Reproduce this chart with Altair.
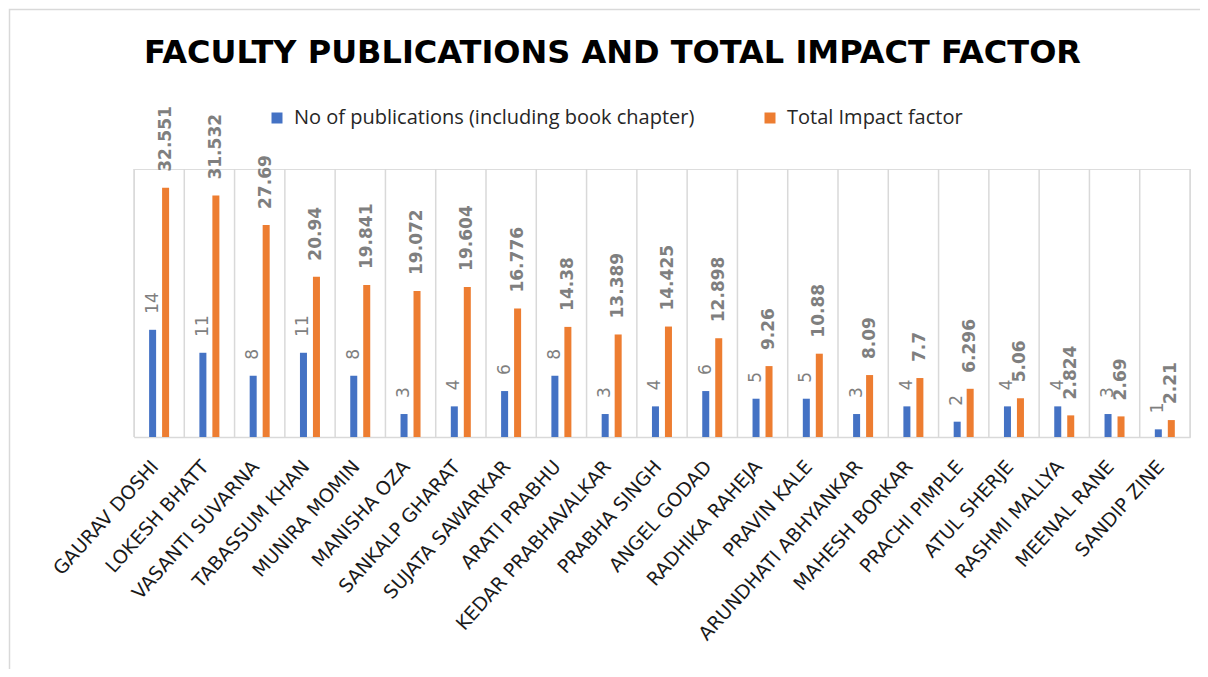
import altair as alt
import pandas as pd

names = ["GAURAV DOSHI", "LOKESH BHATT", "VASANTI SUVARNA", "TABASSUM KHAN", "MUNIRA MOMIN",
         "MANISHA OZA", "SANKALP GHARAT", "SUJATA SAWARKAR", "ARATI PRABHU", "KEDAR PRABHAVALKAR",
         "PRABHA SINGH", "ANGEL GODAD", "RADHIKA RAHEJA", "PRAVIN KALE", "ARUNDHATI ABHYANKAR",
         "MAHESH BORKAR", "PRACHI PIMPLE", "ATUL SHERJE", "RASHMI MALLYA", "MEENAL RANE", "SANDIP ZINE"]
publications = [14, 11, 8, 11, 8, 3, 4, 6, 8, 3, 4, 6, 5, 5, 3, 4, 2, 4, 4, 3, 1]
impact = [32.551, 31.532, 27.69, 20.94, 19.841, 19.072, 19.604, 16.776, 14.38, 13.389,
          14.425, 12.898, 9.26, 10.88, 8.09, 7.7, 6.296, 5.06, 2.824, 2.69, 2.21]
series = ["No of publications (including book chapter)", "Total Impact factor"]
colors = ["#4472C4", "#ED7D31"]

rows = []
for n, p, t in zip(names, publications, impact):
    rows.append({"name": n, "series": series[0], "value": p})
    rows.append({"name": n, "series": series[1], "value": t})
df = pd.DataFrame(rows)
cats = pd.DataFrame({"name": names})
frame = pd.DataFrame({"k": [1]})

W, H = 1056, 268

x_enc = alt.X("name:N", sort=names, scale=alt.Scale(paddingInner=0, paddingOuter=0),
              axis=alt.Axis(title=None, ticks=False, labelAngle=-48, labelAlign="right",
                            labelBaseline="middle", labelPadding=26, labelOffset=-4,
                            labelFont="DejaVu Sans", labelFontSize=19, labelColor="#1a1a1a",
                            labelLimit=400, domainColor="#d9d9d9", domainWidth=1.5, grid=False))
xo_enc = alt.XOffset("series:N", sort=series,
                     scale=alt.Scale(range=[15.1, 35.1], paddingInner=0.46, paddingOuter=0))
y_enc = alt.Y("value:Q", scale=alt.Scale(domain=[0, 35]), axis=None)

grid = alt.Chart(cats).mark_rule(color="#d9d9d9", strokeWidth=1.5).encode(
    x=alt.X("name:N", sort=names, bandPosition=0),
    y=alt.value(0), y2=alt.value(H))
grid_end = alt.Chart(frame).mark_rule(color="#d9d9d9", strokeWidth=1.5).encode(
    x=alt.value(W), y=alt.value(0), y2=alt.value(H))

bars = alt.Chart(df).mark_bar().encode(
    x=x_enc, xOffset=xo_enc, y=y_enc,
    color=alt.Color("series:N", sort=series,
                    scale=alt.Scale(domain=series, range=colors),
                    legend=alt.Legend(title=None, orient="none", direction="horizontal",
                                      legendX=133, legendY=-61, symbolType="square",
                                      symbolSize=121, symbolStrokeWidth=0,
                                      labelFont="Open Sans", labelFontSize=20,
                                      labelColor="#262626", columnPadding=65,
                                      symbolOffset=0, labelOffset=7, labelLimit=600)))

lbl_common = dict(angle=270, align="left", baseline="middle", dx=16,
                  font="DejaVu Sans", fontSize=17, color="#7f7f7f")
lbl_pub = alt.Chart(df).transform_filter(alt.datum.series == series[0]).mark_text(
    **lbl_common).encode(x=alt.X("name:N", sort=names), xOffset=xo_enc, y=y_enc,
                         text=alt.Text("value:Q", format=".6~g"))
lbl_imp = alt.Chart(df).transform_filter(alt.datum.series == series[1]).mark_text(
    fontWeight="bold", **lbl_common).encode(x=alt.X("name:N", sort=names), xOffset=xo_enc, y=y_enc,
                                            text=alt.Text("value:Q", format=".6~g"))

border = alt.Chart(frame).mark_rect(fill=None, stroke="#d9d9d9", strokeWidth=1.5).encode(
    x=alt.value(-124.5), x2=alt.value(W + 60), y=alt.value(-159.5), y2=alt.value(H + 300))

chart = alt.layer(border, grid, grid_end, bars, lbl_pub, lbl_imp).properties(
    width=W, height=H,
    title=alt.TitleParams("FACULTY PUBLICATIONS AND TOTAL IMPACT FACTOR",
                          font="DejaVu Sans", fontSize=32, fontWeight="bold", color="#000000",
                          anchor="middle", frame="group", offset=-86.5, baseline="alphabetic", dx=-49.5),
    autosize=alt.AutoSizeParams(type="none"),
    padding={"left": 126, "top": 161, "right": 10, "bottom": 232},
).configure_view(stroke=None).configure(background="white")

chart.save("out.html", embed_options={"renderer": "svg", "actions": False})
